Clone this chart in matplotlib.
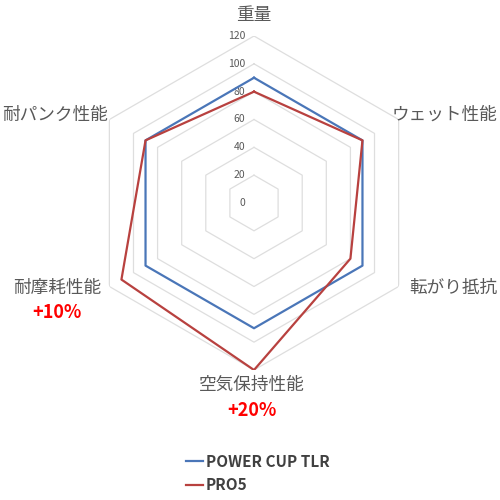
import matplotlib
matplotlib.use("Agg")
import matplotlib.pyplot as plt
import matplotlib.transforms as mtransforms
import numpy as np

plt.rcParams["font.family"] = ["Noto Sans CJK JP", "DejaVu Sans"]

categories = ["重量", "ウェット性能", "転がり抵抗", "空気保持性能", "耐摩耗性能", "耐パンク性能"]
power_cup = [90, 90, 90, 90, 90, 90]
pro5 = [80, 90, 80, 120, 110, 90]
ticks = [0, 20, 40, 60, 80, 100, 120]
notes = {"耐摩耗性能": "+10%", "空気保持性能": "+20%"}

BLUE = "#4A76B8"
RED = "#B8413F"
GRID = "#DEDEDE"
TEXT = "#595959"

fig = plt.figure(figsize=(5, 5), dpi=100)
ax = fig.add_axes([0.174, 0.26, 0.668, 0.668], projection="polar")
ax.set_theta_offset(np.pi / 2)
ax.set_theta_direction(-1)
ax.set_ylim(0, 120)
ax.axis("off")

n = len(categories)
theta = np.linspace(0, 2 * np.pi, n, endpoint=False)
theta_c = np.append(theta, theta[0])

# hexagonal grid
for t in ticks[1:]:
    ax.plot(theta_c, [t] * (n + 1), color=GRID, linewidth=0.9, zorder=1)

shift = ax.transData + mtransforms.ScaledTranslation(-0.09, 0, fig.dpi_scale_trans)
for t in ticks:
    ax.text(0, t, str(t), ha="right", va="center", fontsize=7.5, color=TEXT,
            transform=shift, zorder=2)

ax.plot(theta_c, power_cup + power_cup[:1], color=BLUE, linewidth=1.6,
        label="POWER CUP TLR", zorder=3)
ax.plot(theta_c, pro5 + pro5[:1], color=RED, linewidth=1.6, label="PRO5", zorder=4)

# (x in px, y in px, alignment)
label_pos = {
    "重量": (254, 15, "center"),
    "ウェット性能": (497, 115, "right"),
    "転がり抵抗": (497, 288, "right"),
    "空気保持性能": (252, 385, "center"),
    "耐摩耗性能": (57, 288, "center"),
    "耐パンク性能": (2, 115, "left"),
}
for cat in categories:
    px, py, ha = label_pos[cat]
    fig.text(px / 500, 1 - py / 500, cat, ha=ha, va="center",
             fontsize=12.7, color=TEXT)
    if cat in notes:
        fig.text(px / 500, 1 - (py + 25) / 500, notes[cat], ha="center",
                 va="center", fontsize=13, color="#FF0000", fontweight="bold")

leg = fig.legend(loc="center left", bbox_to_anchor=(0.345, 0.053), frameon=False,
                 handlelength=1.1, handletextpad=0.2, labelspacing=0.5,
                 prop={"size": 11, "weight": "bold"})
for t in leg.get_texts():
    t.set_color("#404040")

fig.savefig("out.png", dpi=100)
